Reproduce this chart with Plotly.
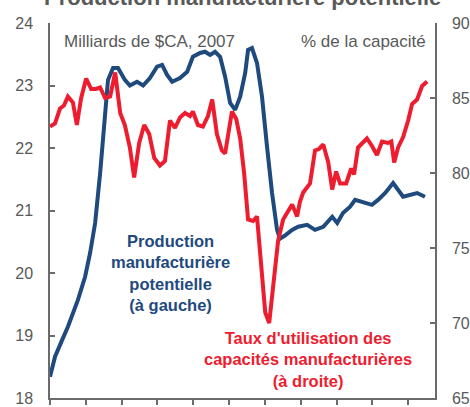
import plotly.graph_objects as go

# Potential manufacturing output (billions of 2007 CAD), left axis
blue_year = [2000.00, 2000.14, 2000.34, 2000.50, 2000.78, 2000.98, 2001.12, 2001.26, 2001.40, 2001.54,
             2001.62, 2001.76, 2001.90, 2002.09, 2002.23, 2002.43, 2002.60, 2002.79, 2002.99, 2003.13,
             2003.27, 2003.41, 2003.63, 2003.83, 2003.99, 2004.19, 2004.33, 2004.47, 2004.61, 2004.75,
             2004.89, 2005.03, 2005.17, 2005.31, 2005.45, 2005.53, 2005.64, 2005.78, 2005.92, 2006.06,
             2006.20, 2006.34, 2006.42, 2006.56, 2006.76, 2006.93, 2007.18, 2007.40, 2007.63, 2007.88,
             2008.02, 2008.18, 2008.38, 2008.52, 2008.74, 2008.99, 2009.16, 2009.36, 2009.58, 2009.86,
             2010.25, 2010.47]
blue_val = [18.34, 18.66, 18.93, 19.14, 19.57, 19.94, 20.32, 20.80, 21.60, 22.56,
            23.09, 23.28, 23.28, 23.09, 23.00, 23.06, 23.00, 23.12, 23.30, 23.33,
            23.17, 23.06, 23.12, 23.22, 23.46, 23.52, 23.54, 23.49, 23.54, 23.46,
            23.14, 22.72, 22.61, 22.82, 23.20, 23.57, 23.60, 23.36, 22.82, 22.02,
            21.28, 20.69, 20.55, 20.60, 20.69, 20.74, 20.77, 20.69, 20.74, 20.90,
            20.80, 20.96, 21.06, 21.17, 21.14, 21.09, 21.17, 21.28, 21.44, 21.22,
            21.28, 21.22]

# Capacity utilization rate (% of capacity), right axis
red_year = [2000.00, 2000.14, 2000.28, 2000.39, 2000.50, 2000.64, 2000.75, 2000.87, 2001.01, 2001.15,
            2001.28, 2001.40, 2001.54, 2001.68, 2001.82, 2001.96, 2002.09, 2002.23, 2002.35, 2002.49,
            2002.63, 2002.77, 2002.91, 2003.07, 2003.21, 2003.35, 2003.49, 2003.63, 2003.77, 2003.91,
            2003.99, 2004.13, 2004.27, 2004.41, 2004.53, 2004.66, 2004.80, 2004.89, 2005.08, 2005.20,
            2005.31, 2005.42, 2005.53, 2005.67, 2005.78, 2005.87, 2006.01, 2006.12, 2006.23, 2006.37,
            2006.51, 2006.65, 2006.76, 2006.90, 2006.98, 2007.07, 2007.26, 2007.40, 2007.51, 2007.63,
            2007.77, 2007.88, 2007.99, 2008.10, 2008.27, 2008.41, 2008.49, 2008.60, 2008.85, 2008.99,
            2009.13, 2009.27, 2009.44, 2009.53, 2009.61, 2009.72, 2009.86, 2010.00, 2010.11, 2010.25,
            2010.39, 2010.53]
red_val = [83.1, 83.3, 84.3, 84.5, 85.1, 84.7, 83.2, 85.0, 86.3, 85.6,
           85.6, 85.7, 85.0, 85.1, 86.7, 84.0, 83.2, 81.7, 79.7, 82.0,
           83.2, 82.6, 81.0, 80.5, 80.8, 83.5, 83.0, 83.7, 84.0, 83.8,
           84.1, 83.2, 83.1, 83.8, 84.9, 82.6, 81.5, 81.3, 84.1, 83.6,
           82.3, 80.0, 76.9, 76.8, 77.1, 74.7, 70.7, 70.0, 72.4, 75.5,
           76.9, 77.5, 77.9, 77.1, 78.1, 78.7, 79.3, 81.5, 81.6, 81.9,
           80.7, 78.9, 80.1, 79.3, 79.3, 80.3, 79.9, 81.7, 82.3, 81.8,
           81.2, 82.1, 82.0, 82.1, 80.7, 81.7, 82.4, 83.5, 84.6, 84.9,
           85.8, 86.1]

year_ticks = list(range(2000, 2011))
left_ticks = [18, 19, 20, 21, 22, 23, 24]
right_ticks = [65, 70, 75, 80, 85, 90]

BLUE = '#1F4A7E'
RED = '#EE1C2F'
GRAY = '#595959'
AXIS = '#6b6b6b'
FONT = 'Liberation Sans, Arial, sans-serif'

fig = go.Figure()
fig.add_trace(go.Scatter(x=blue_year, y=blue_val, mode='lines',
                         line=dict(color=BLUE, width=4), yaxis='y'))
fig.add_trace(go.Scatter(x=red_year, y=red_val, mode='lines',
                         line=dict(color=RED, width=4), yaxis='y2'))

fig.update_layout(
    width=470, height=407,
    margin=dict(l=50, r=35, t=23, b=9),
    paper_bgcolor='white', plot_bgcolor='white',
    showlegend=False,
    font=dict(family=FONT, color=GRAY),
    xaxis=dict(range=[2000, 2010.75], tickvals=year_ticks, showticklabels=False,
               ticks='outside', ticklen=5, tickwidth=1.5, tickcolor=AXIS, automargin=False,
               showline=True, linecolor=AXIS, linewidth=1.5, showgrid=False, zeroline=False),
    yaxis=dict(range=[18, 24], tickvals=left_ticks, ticks='inside', ticklen=5, automargin=False,
               tickwidth=1.5, tickcolor=AXIS, showline=True, linecolor=AXIS, linewidth=1.5,
               showgrid=False, zeroline=False, tickfont=dict(size=16, color=GRAY),
               ticklabelstandoff=12),
    yaxis2=dict(range=[65, 90], tickvals=right_ticks, ticks='inside', ticklen=5, automargin=False,
                tickwidth=1.5, tickcolor=AXIS, showline=True, linecolor=AXIS, linewidth=1.5,
                showgrid=False, zeroline=False, overlaying='y', side='right',
                tickfont=dict(size=16, color=GRAY), ticklabelstandoff=12),
)

fig.add_annotation(text='<b>Production manufacturière potentielle</b>', xref='paper', yref='paper',
                   x=0.501, y=1.067, xanchor='center', yanchor='middle', showarrow=False,
                   font=dict(size=22, color=GRAY, family=FONT))
fig.add_annotation(text='Milliards de $CA, 2007', xref='paper', yref='paper',
                   x=0.031, y=0.950, xanchor='left', yanchor='middle', showarrow=False,
                   font=dict(size=17, color=GRAY, family=FONT))
fig.add_annotation(text='% de la capacité', xref='paper', yref='paper',
                   x=0.982, y=0.950, xanchor='right', yanchor='middle', showarrow=False,
                   font=dict(size=17, color=GRAY, family=FONT))
fig.add_annotation(text='<b>Production<br>manufacturière<br>potentielle<br>(à gauche)</b>',
                   xref='paper', yref='paper', x=0.312, y=0.333, xanchor='center', yanchor='middle',
                   showarrow=False, align='center', font=dict(size=16.5, color=BLUE, family=FONT))
fig.add_annotation(text="<b>Taux d'utilisation des<br>capacités manufacturières<br>(à droite)</b>",
                   xref='paper', yref='paper', x=0.670, y=0.104, xanchor='center', yanchor='middle',
                   showarrow=False, align='center', font=dict(size=16.5, color=RED, family=FONT))

# remove the default 8px page margin so the figure fills the window exactly
fig.write_html('out.html', config={'displayModeBar': False},
               post_script="document.body.style.margin='0';")
